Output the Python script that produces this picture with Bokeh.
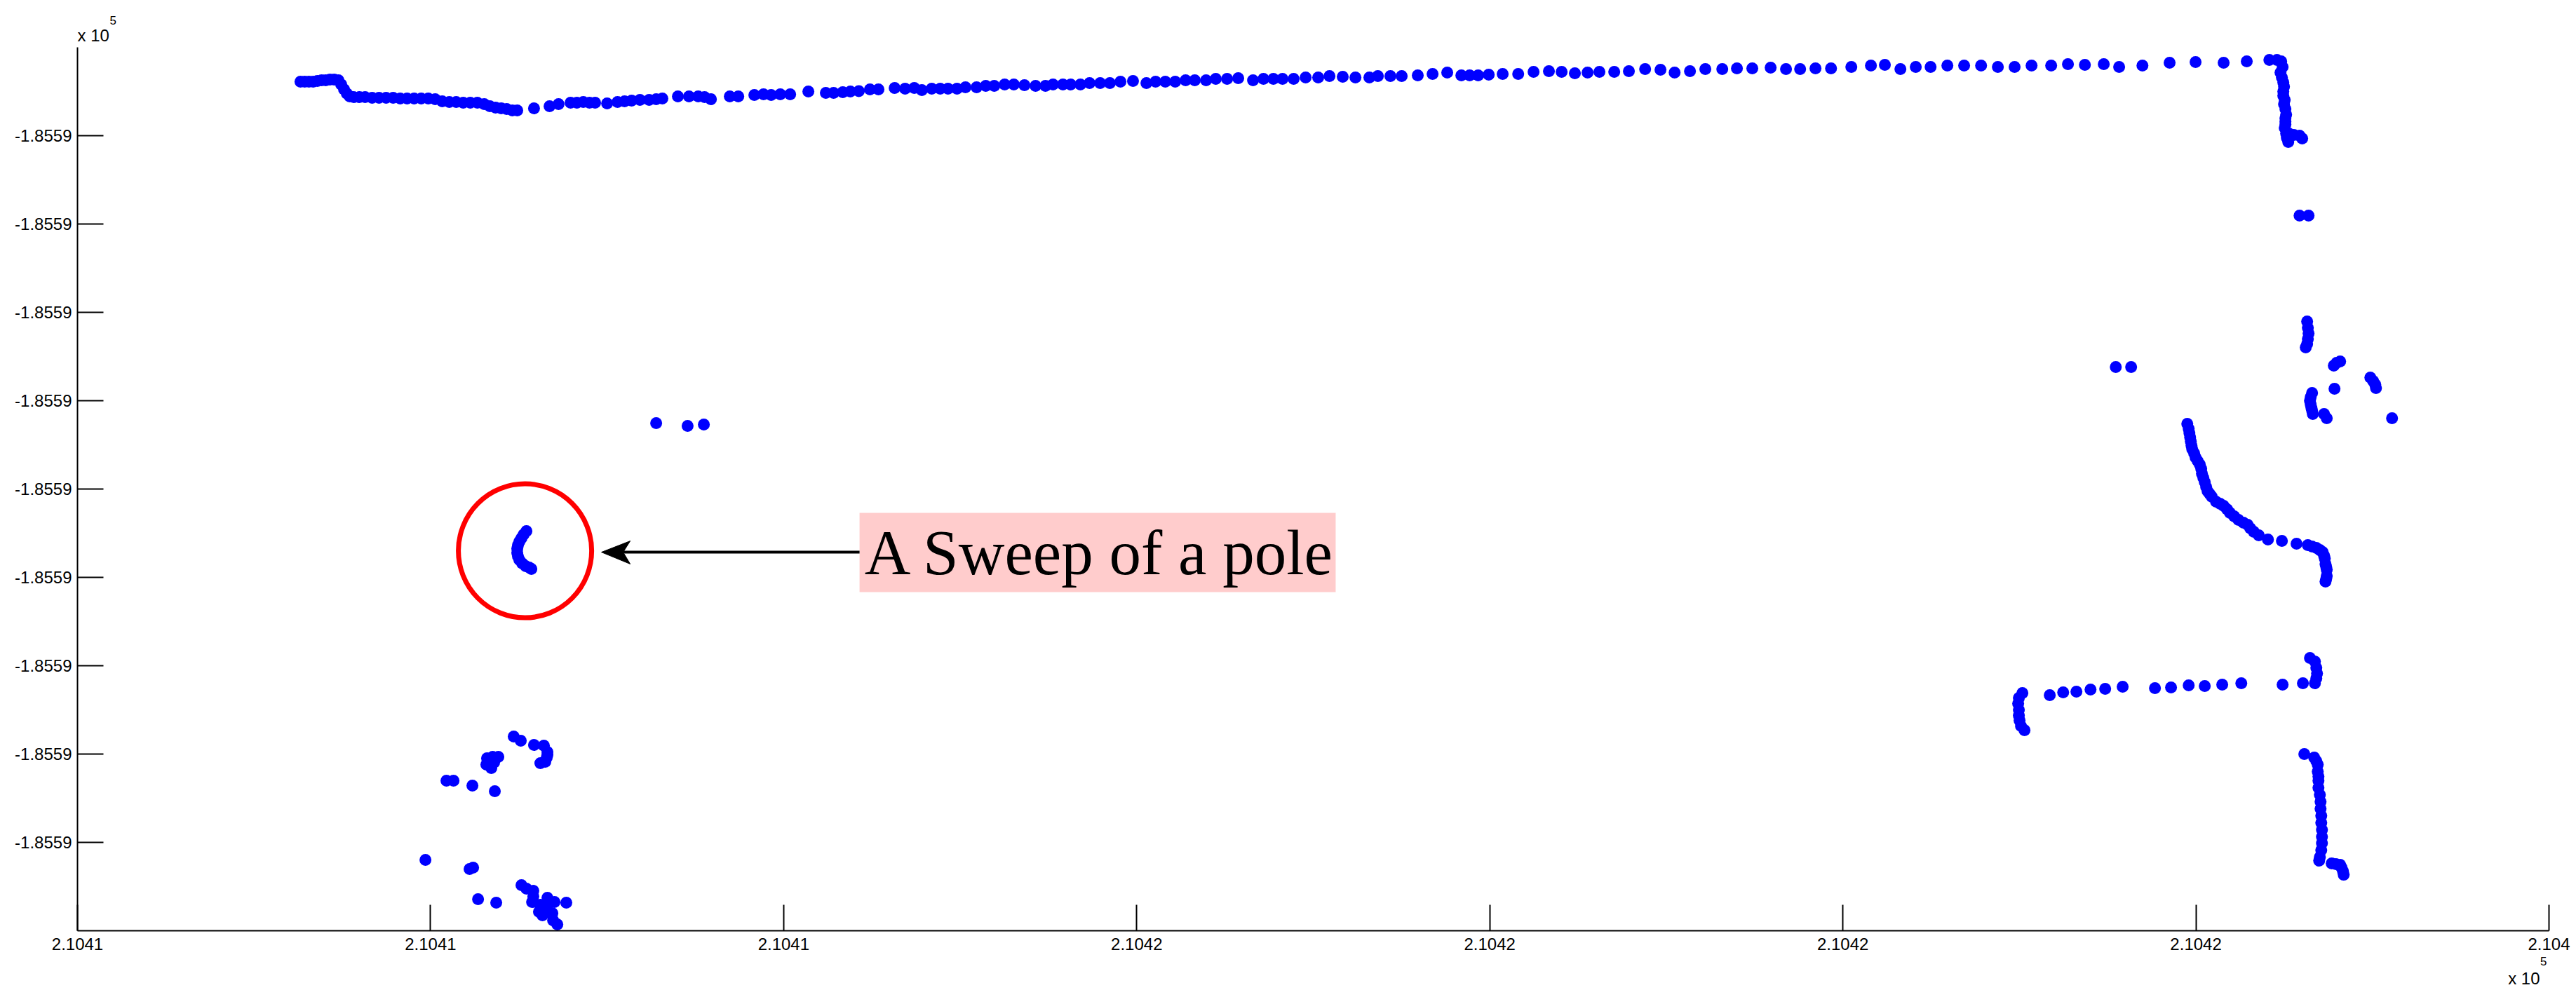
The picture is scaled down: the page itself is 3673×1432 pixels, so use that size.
#-*-coding:utf8-*-
import numpy as np
from bokeh.plotting import figure
from bokeh.core.properties import value
from bokeh.models import Range1d, FixedTicker, Title
from bokeh.embed import file_html
from bokeh.resources import INLINE

# laser scan points, metres east of 210410 and metres south of -185585
# wall along the top
wall_x = [1.263,1.287,1.311,1.335,1.359,1.383,1.406,1.430,1.454,1.478,1.494,1.510,1.526,1.542,1.565,1.597,1.629,1.669,1.708,1.748,
	1.788,1.828,1.867,1.907,1.947,1.987,2.026,2.066,2.106,2.145,2.185,2.225,2.265,2.304,2.336,2.368,2.400,2.431,2.463,2.491,
	2.586,2.674,2.725,2.793,2.829,2.865,2.900,2.932,3.000,3.059,3.099,3.139,3.186,3.238,3.278,3.313,3.401,3.464,3.516,3.552,
	3.588,3.695,3.743,3.834,3.886,3.929,3.981,4.037,4.140,4.239,4.283,4.335,4.378,4.426,4.489,4.537,4.629,4.688,4.740,4.783,
	4.839,4.887,4.931,4.982,5.030,5.093,5.145,5.193,5.252,5.304,5.364,5.427,5.483,5.526,5.582,5.626,5.681,5.733,5.793,5.848,
	5.908,5.979,6.055,6.107,6.162,6.218,6.277,6.329,6.393,6.448,6.512,6.575,6.659,6.718,6.774,6.826,6.889,6.957,7.028,7.092,
	7.167,7.239,7.318,7.366,7.437,7.501,7.592,7.676,7.759,7.839,7.886,7.934,7.994,8.073,8.161,8.248,8.335,8.407,8.482,8.554,
	8.621,8.705,8.788,8.880,8.967,9.047,9.134,9.221,9.317,9.400,9.487,9.591,9.678,9.758,9.845,9.933,10.048,10.159,10.238,10.326,
	10.413,10.497,10.592,10.687,10.783,10.878,10.973,11.069,11.180,11.275,11.371,11.478,11.565,11.697,11.851,11.998,12.157,12.288,12.416,12.459]
wall_y = [.389,.389,.389,.389,.381,.373,.373,.365,.365,.373,.421,.476,.524,.556,.564,.564,.564,.571,.571,.571,
	.571,.579,.579,.579,.579,.579,.587,.611,.619,.619,.627,.627,.627,.643,.667,.683,.691,.698,.714,.714,
	.691,.667,.643,.627,.627,.619,.627,.627,.635,.619,.611,.603,.595,.595,.587,.579,.556,.556,.556,.564,
	.587,.556,.556,.540,.532,.540,.532,.532,.500,.516,.516,.508,.500,.496,.476,.476,.460,.468,.460,.484,
	.468,.468,.468,.468,.452,.452,.437,.437,.421,.421,.429,.437,.437,.421,.421,.421,.421,.405,.405,.405,
	.389,.381,.405,.389,.389,.389,.373,.373,.373,.357,.357,.349,.373,.357,.357,.357,.357,.341,.341,.325,
	.333,.341,.341,.325,.325,.325,.317,.302,.286,.317,.317,.317,.310,.302,.302,.278,.270,.278,.294,.286,
	.278,.278,.270,.246,.254,.286,.270,.246,.246,.238,.238,.230,.246,.246,.238,.238,.222,.206,.198,.246,
	.222,.222,.206,.206,.206,.222,.222,.206,.206,.190,.198,.190,.222,.206,.175,.167,.175,.159,.143,.143]

# the corner going down on the right
corner_x = [12.483,12.491,12.479,12.487,12.495,12.499,12.495,12.495,12.503,12.499,12.507,12.511,12.507,12.507,12.507,12.503,12.511,12.515,12.523,12.527,12.555,12.587,12.602]
corner_y = [.159,.222,.286,.341,.397,.444,.500,.548,.595,.643,.698,.762,.802,.841,.873,.913,.976,1.024,1.071,.976,.992,1.000,1.032]

# small objects top right
right_x = [12.587,12.638,12.630,12.634,12.638,12.634,12.630,12.622,12.781,12.797,12.817,12.785,12.988,13.004,13.016,13.020,
	12.658,12.650,12.646,12.650,12.654,12.658,12.662,12.726,12.741,13.111,11.546,11.633]
right_y = [1.905,1.905,3.103,3.175,3.238,3.302,3.357,3.397,3.603,3.572,3.556,3.865,3.738,3.778,3.818,3.857,
	3.913,3.961,4.000,4.040,4.080,4.111,4.151,4.151,4.199,4.199,3.619,3.619]

# curved kerb
curve_x = [11.951,11.959,11.963,11.967,11.971,11.975,11.979,11.990,11.998,12.010,12.022,12.030,12.034,12.042,12.050,12.058,12.066,12.078,12.090,12.114,
	12.137,12.157,12.177,12.193,12.217,12.241,12.269,12.293,12.308,12.328,12.356,12.408,12.487,12.570,12.634,12.658,12.682,12.702,12.718,12.726,
	12.730,12.734,12.738,12.741,12.741,12.738,12.734]
curve_y = [4.262,4.318,4.365,4.413,4.461,4.508,4.548,4.595,4.643,4.683,4.722,4.770,4.826,4.873,4.921,4.976,5.024,5.056,5.088,5.143,
	5.167,5.191,5.230,5.270,5.310,5.350,5.381,5.405,5.445,5.484,5.524,5.572,5.588,5.619,5.635,5.651,5.667,5.691,5.715,5.754,
	5.786,5.849,5.881,5.913,5.984,6.016,6.048]

# lower row and bracket
row_x = [11.017,10.997,10.993,10.997,10.997,11.001,11.009,11.029,11.172,11.248,11.323,11.403,11.486,11.585,11.768,11.859,11.959,12.050,12.149,12.257,12.491,12.606,
	12.646,12.674,12.682,12.686,12.682,12.674]
row_y = [7.310,7.366,7.429,7.500,7.564,7.620,7.683,7.731,7.334,7.302,7.294,7.270,7.262,7.239,7.254,7.246,7.223,7.231,7.215,7.199,7.215,7.199,
	6.913,6.953,7.024,7.088,7.143,7.199]

# long vertical wall bottom right
long_x = [12.614,12.670,12.682,12.690,12.690,12.694,12.694,12.694,12.702,12.706,12.706,12.710,12.710,12.714,12.714,12.714,12.710,12.702,12.698,12.769,12.793,12.817,12.825,12.833,12.837]
long_y = [8.000,8.040,8.080,8.119,8.199,8.254,8.302,8.381,8.461,8.540,8.619,8.699,8.778,8.858,8.937,9.008,9.088,9.167,9.207,9.239,9.246,9.254,9.286,9.326,9.366]

# clutter bottom left
left_x = [2.471,2.511,2.586,2.642,2.662,2.662,2.658,2.650,2.622,2.320,2.352,2.384,2.316,2.344,2.360,2.332,2.090,2.130,2.237,2.364,
	1.971,2.221,2.241,2.269,2.372,2.769,2.515,2.543,2.582,2.582,2.575,2.662,2.702,2.622,2.662,2.614,2.662,2.690,2.634,2.694,2.718]
left_y = [7.802,7.850,7.897,7.905,7.976,8.008,8.040,8.088,8.104,8.048,8.032,8.032,8.119,8.159,8.096,8.096,8.302,8.302,8.358,8.421,
	9.199,9.302,9.286,9.643,9.683,9.683,9.485,9.524,9.548,9.612,9.675,9.627,9.675,9.707,9.707,9.786,9.786,9.802,9.826,9.882,9.929]

# three lone points and the pole
lone_x = [3.278,3.456,3.548]
lone_y = [4.254,4.286,4.270]
pole_x = [2.543,2.527,2.515,2.503,2.495,2.491,2.491,2.495,2.503,2.519,2.539,2.559,2.571]
pole_y = [5.477,5.516,5.556,5.596,5.635,5.675,5.723,5.762,5.802,5.842,5.873,5.889,5.905]

x_ticks = [210410,210412,210414,210416,210418,210420,210422,210424]
x_labels = ['2.1041','2.1041','2.1041','2.1042','2.1042','2.1042','2.1042','2.104']
y_ticks = [-185586,-185587,-185588,-185589,-185590,-185591,-185592,-185593,-185594]
y_labels = ['-1.8559']*9

X0 = 210410
Y0 = -185585

def east(v):
	return X0 + np.array(v)

def south(v):
	return Y0 - np.array(v)

p = figure(width=3665, height=1416, output_backend="svg", toolbar_location=None,
	x_range=Range1d(x_ticks[0],x_ticks[-1]), y_range=Range1d(-185595,-185585),
	min_border_left=110, min_border_right=31, min_border_top=67, min_border_bottom=89)
p.grid.visible = False
p.outline_line_color = None

for ax in [p.xaxis[0], p.yaxis[0]]:
	ax.axis_line_color = 'black'
	ax.axis_line_width = 2
	ax.major_tick_line_color = 'black'
	ax.major_tick_line_width = 2
	ax.major_tick_in = 37
	ax.major_tick_out = 0
	ax.minor_tick_line_color = None
	ax.major_label_text_font = 'Liberation Sans'
	ax.major_label_text_font_size = '24px'
	ax.major_label_text_color = 'black'
p.xaxis[0].ticker = FixedTicker(ticks=x_ticks)
p.yaxis[0].ticker = FixedTicker(ticks=y_ticks)
p.xaxis[0].major_label_overrides = dict(zip(x_ticks,x_labels))
p.yaxis[0].major_label_overrides = dict(zip(y_ticks,y_labels))
p.xaxis[0].major_label_standoff = 10
p.yaxis[0].major_label_standoff = 8

groups = [(wall_x,wall_y),(corner_x,corner_y),(right_x,right_y),(curve_x,curve_y),(row_x,row_y),
	(long_x,long_y),(left_x,left_y),(lone_x,lone_y),(pole_x,pole_y)]
for gx, gy in groups:
	p.scatter(east(gx), south(gy), size=17, marker='circle', color='#0000ff', line_width=0)

# red ring round the pole
p.ellipse(east([2.535]), south([5.699]), width=.755, height=1.516, fill_color=None, line_color='#ff0000', line_width=7)

# callout
p.quad(left=east([4.430]), right=east([7.127]), top=south([5.270]), bottom=south([6.167]), fill_color='#ffcccc', line_color=None)
p.text(east([4.458]), south([5.723]), text=['A Sweep of a pole'], text_font=value('Liberation Serif'),
	text_font_size='91px', text_color='black', text_baseline='alphabetic', text_align='left')
p.segment(east([4.430]), south([5.715]), east([3.091]), south([5.715]), line_color='black', line_width=4)
p.patch(east([2.968,3.131,3.091,3.131]), south([5.715,5.588,5.715,5.849]), fill_color='black', line_color='black', line_width=1)

# exponents, in the margins next to the axes
def exponent(align, off, offs, stand, stands):
	first = Title(text='x 10', align=align, offset=off, standoff=stand, text_font='Liberation Sans',
		text_font_size='24px', text_font_style='normal', text_color='black')
	second = Title(text='5', align=align, offset=offs, standoff=stands, text_font='Liberation Sans',
		text_font_size='17px', text_font_style='normal', text_color='black')
	return first, second

a, b = exponent('left', 0, 46, 8, -8)
p.add_layout(a, 'above')
p.add_layout(b, 'above')
a, b = exponent('right', 13, 3, -4, 10)
p.add_layout(b, 'below')
p.add_layout(a, 'below')

open("out.html", "w").write(file_html(p, INLINE))
